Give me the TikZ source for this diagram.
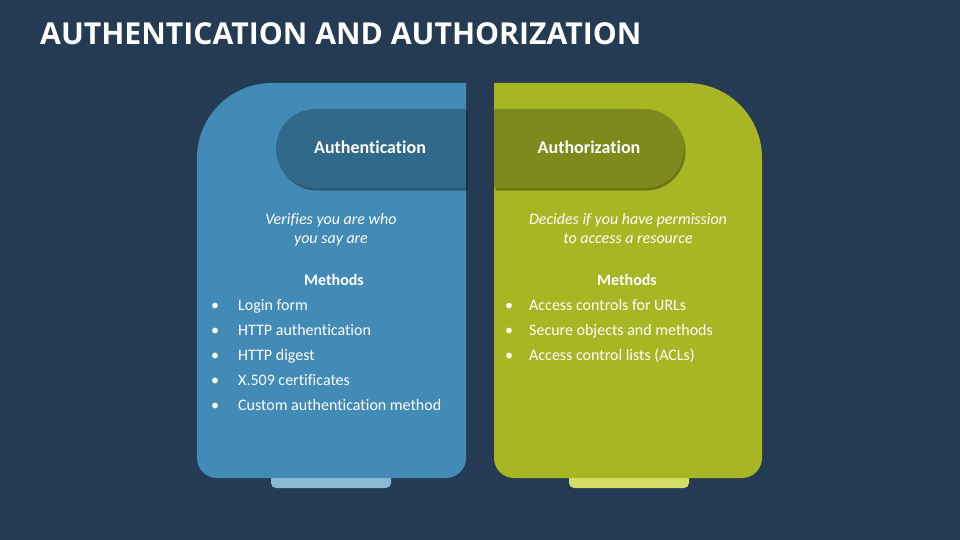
\documentclass[tikz,border=0pt]{standalone}
\usepackage{fontspec}
\setmainfont{Carlito}[Ligatures=NoCommon]
\newfontfamily\titlefont{Open Sans}
\usetikzlibrary{shadows}
\definecolor{bgnavy}{HTML}{253A53}
\definecolor{authblue}{HTML}{428BB6}
\definecolor{authdark}{HTML}{31698A}
\definecolor{authtab}{HTML}{8ABAD6}
\definecolor{permgreen}{HTML}{A8B623}
\definecolor{permdark}{HTML}{7D8A1C}
\definecolor{permtab}{HTML}{D4E06A}
\tikzset{
  bodytext/.style={text=white,font=\fontsize{16}{19}\selectfont,inner sep=0pt,anchor=base west},
  desctext/.style={text=white,font=\fontsize{16}{19}\selectfont\itshape,inner sep=0pt,anchor=base},
  headtext/.style={text=white,font=\fontsize{18}{21}\selectfont\bfseries,inner sep=0pt,anchor=base},
  pillshadow/.style={drop shadow={shadow xshift=1.5pt,shadow yshift=-2.5pt,opacity=0.35,fill=black}}
}
\begin{document}
\begin{tikzpicture}[x=1pt,y=-1pt]
\useasboundingbox (0,0) rectangle (960,540);
\fill[bgnavy] (0,0) rectangle (960,540);
% title
\node[anchor=base west,inner sep=0pt,text=white,font=\titlefont\fontsize{30.2}{34}\selectfont\bfseries] (title) at (40,45) {AUTHENTICATION AND AUTHORIZATION};
% tabs under the panels
\fill[authtab,rounded corners=5] (271,465) rectangle (391,488);
\fill[permtab,rounded corners=5] (569,465) rectangle (689,488);
% left panel
\fill[authblue] (466,83) -- (272,83) arc(270:180:75) -- (197,458) arc(180:90:20) -- (446,478) arc(90:0:20) -- cycle;
% right panel
\fill[permgreen] (494,83) -- (687,83) arc(270:360:75) -- (762,458) arc(0:90:20) -- (514,478) arc(90:180:20) -- cycle;
% header pills
\fill[authdark,pillshadow] (466,109) -- (315.5,109) arc(270:90:39.5) -- (466,188) -- cycle;
\fill[permdark,pillshadow] (494,109) -- (644.5,109) arc(270:450:39.5) -- (494,188) -- cycle;
\node[headtext] (authhead) at (370,154) {Authentication};
\node[headtext] (permhead) at (589,154) {Authorization};
% descriptions
\node[desctext] (authdesc1) at (331,224) {Verifies you are who};
\node[desctext] (authdesc2) at (331,243) {you say are};
\node[desctext] (permdesc1) at (628,224) {Decides if you have permission};
\node[desctext] (permdesc2) at (628,243) {to access a resource};
\node[headtext,font=\fontsize{16}{19}\selectfont\bfseries] (authmeth) at (334,285) {Methods};
\node[headtext,font=\fontsize{16}{19}\selectfont\bfseries] (permmeth) at (627,285) {Methods};
% bullet lists
\foreach \txt [count=\i] in {Login form,HTTP authentication,HTTP digest,X.509 certificates,Custom authentication method} {
  \node[bodytext,anchor=base] (authdot\i) at (215,{310+25*(\i-1)}) {•};
  \node[bodytext] (authitem\i) at (238,{310+25*(\i-1)}) {\txt};
}
\foreach \txt [count=\i] in {Access controls for URLs,Secure objects and methods,Access control lists (ACLs)} {
  \node[bodytext,anchor=base] (permdot\i) at (509,{310+25*(\i-1)}) {•};
  \node[bodytext] (permitem\i) at (529,{310+25*(\i-1)}) {\txt};
}
\end{tikzpicture}
\end{document}
